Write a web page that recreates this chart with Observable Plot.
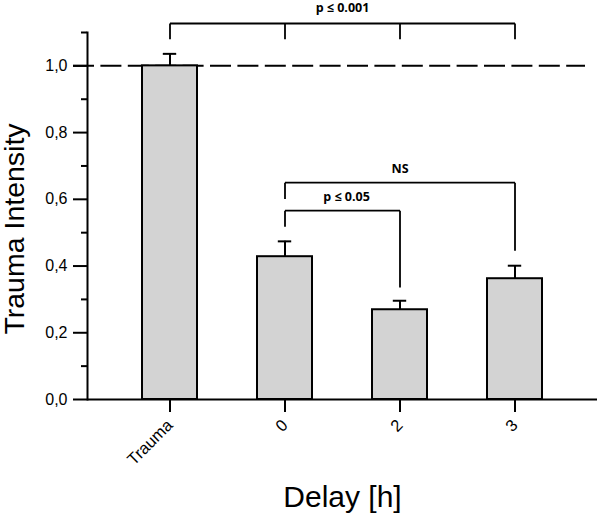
<!DOCTYPE html>
<html><head><meta charset="utf-8">
<script src="https://cdn.jsdelivr.net/npm/d3@7"></script>
<script src="https://cdn.jsdelivr.net/npm/@observablehq/plot@0.6"></script>
<style>body{margin:0;background:#fff}</style>
</head><body><div id="chart"></div>
<script>
const categories = ["Trauma", "0", "2", "3"];
const means = [1.0, 0.428, 0.269, 0.362];
const errors = [0.036, 0.046, 0.027, 0.039];
const yMajorTicks = [0, 0.2, 0.4, 0.6, 0.8, 1.0];
const yMinorTicks = [0.1, 0.3, 0.5, 0.7, 0.9, 1.1];
const referenceLevel = 1.0;
const xTitle = "Delay [h]";
const yTitle = "Trauma Intensity";
// significance brackets
const bracketLabels = ["p ≤ 0.001", "NS", "p ≤ 0.05"];
const bracketTop = [1.127, 0.650, 0.566];
const bracketLabelY = [1.173, 0.691, 0.608];
const bracketFrom = ["Trauma", "0", "0"];
const bracketTo = ["3", "3", "2"];
const legCats = ["Trauma", "0", "2", "3", "0", "3", "0", "2"];
const legBracket = [0, 0, 0, 0, 1, 1, 2, 2];
const legBottom = [1.08, 1.08, 1.08, 1.08, 0.601, 0.446, 0.518, 0.336];

const bars = categories.map((c, i) => ({cat: c, mean: means[i], err: errors[i]}));
const spans = bracketLabels.map((l, i) => ({label: l, from: bracketFrom[i], to: bracketTo[i], top: bracketTop[i], ly: bracketLabelY[i]}));
const legs = legCats.map((c, i) => ({cat: c, top: bracketTop[legBracket[i]], bottom: legBottom[i]}));
const fmt = d => d3.format(".1f")(d).replace(".", ",");
const annFont = {fontFamily: "Open Sans", fontWeight: "bold", fontSize: 12.5, fill: "#000"};

const chart = Plot.plot({
  width: 600, height: 525,
  marginTop: 32, marginBottom: 126, marginLeft: 87, marginRight: 3,
  style: {fontFamily: "Liberation Sans, Arial, sans-serif", fontSize: "16px", color: "#000", background: "#fff"},
  x: {domain: categories, paddingInner: 0.52, paddingOuter: 0.4584, align: 0.5, label: null},
  y: {domain: [0, 1.1], label: null},
  marks: [
    Plot.ruleY([referenceLevel], {stroke: "#000", strokeWidth: 2, strokeDasharray: "21,6.4", insetLeft: -14, insetRight: 12}),
    Plot.barY(bars, {x: "cat", y: "mean", fill: "#d3d3d3", stroke: "#000", strokeWidth: 2}),
    Plot.ruleX(bars, {x: "cat", y1: "mean", y2: d => d.mean + d.err, stroke: "#000", strokeWidth: 2}),
    Plot.tickY(bars, {x: "cat", y: d => d.mean + d.err, stroke: "#000", strokeWidth: 2, insetLeft: 20.8, insetRight: 20.8}),
    Plot.link(spans, {x1: "from", x2: "to", y1: "top", y2: "top", stroke: "#000", strokeWidth: 1.8}),
    Plot.link(legs, {x1: "cat", x2: "cat", y1: "top", y2: "bottom", stroke: "#000", strokeWidth: 1.8}),
    Plot.text([spans[0]], {y: "ly", text: "label", frameAnchor: "middle", ...annFont}),
    Plot.text([spans[1]], {x: () => categories[2], y: "ly", text: "label", ...annFont}),
    Plot.text([spans[2]], {y: "ly", text: "label", frameAnchor: "middle", dx: 4, ...annFont}),
    Plot.frame({anchor: "left", stroke: "#000", strokeWidth: 2}),
    Plot.ruleY([0], {stroke: "#000", strokeWidth: 2}),
    Plot.axisY(yMajorTicks, {tickSize: 14, tickPadding: 6, tickFormat: fmt, fontSize: 16, strokeWidth: 2, label: null}),
    Plot.axisY(yMinorTicks, {tickSize: 6, tickFormat: () => "", strokeWidth: 2, label: null}),
    Plot.axisX({tickSize: 13, tickRotate: -45, tickPadding: 10, fontSize: 16.5, strokeWidth: 2, label: null}),
    Plot.text([xTitle], {frameAnchor: "bottom", dy: 107, fontSize: 30, fill: "#000"}),
    Plot.text([yTitle], {frameAnchor: "left", textAnchor: "middle", rotate: -90, dx: -73, dy: 13, fontSize: 28.5, fill: "#000"})
  ]
});
document.getElementById("chart").appendChild(chart);
</script>
</body></html>
